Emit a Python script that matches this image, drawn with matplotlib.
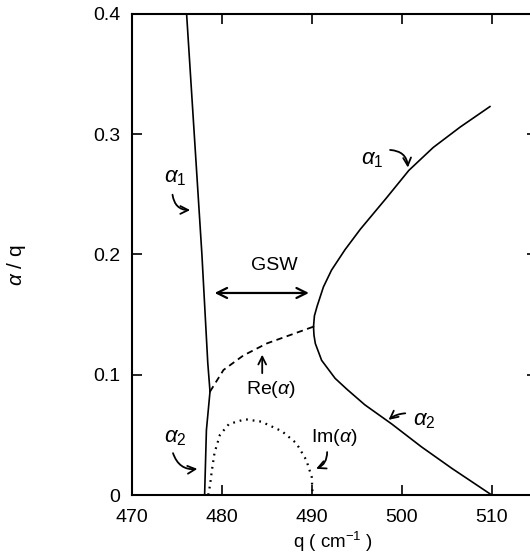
import matplotlib
matplotlib.use("Agg")
import matplotlib.pyplot as plt

plt.rcParams["font.family"] = ["Liberation Sans", "DejaVu Sans"]
plt.rcParams["mathtext.fontset"] = "custom"
plt.rcParams["mathtext.rm"] = "Liberation Sans"
plt.rcParams["mathtext.it"] = "Liberation Sans:italic"

# branche gauche (alpha1 puis alpha2)
q_a1_gauche = [476.1, 476.95, 477.8, 478.45, 478.7]
a_a1_gauche = [0.4, 0.3, 0.2, 0.11, 0.086]
q_a2_gauche = [478.7, 478.3, 478.1]
a_a2_gauche = [0.086, 0.054, 0.0]

# branche droite
q_a1_droite = [490.2, 490.3, 490.6, 491.3, 492.2, 493.7, 495.4, 498.3, 500.8, 503.5, 506.5, 509.8]
a_a1_droite = [0.140, 0.149, 0.157, 0.173, 0.187, 0.204, 0.221, 0.247, 0.270, 0.289, 0.306, 0.323]
q_a2_droite = [490.2, 490.25, 490.4, 491.1, 492.6, 493.9, 495.9, 498.9, 502.2, 505.6, 510.0]
a_a2_droite = [0.140, 0.133, 0.126, 0.112, 0.097, 0.088, 0.075, 0.059, 0.040, 0.022, 0.0]

# partie reelle / imaginaire dans la bande
q_re = [478.7, 480.2, 482.4, 485.0, 487.6, 490.2]
a_re = [0.086, 0.104, 0.116, 0.126, 0.133, 0.140]
q_im = [478.5, 478.7, 478.9, 479.2, 479.8, 480.8, 482.6, 484.4, 486.7, 488.3, 489.4, 490.0, 490.1]
a_im = [0.0, 0.008, 0.020, 0.035, 0.050, 0.059, 0.063, 0.061, 0.053, 0.043, 0.029, 0.015, 0.0]

xticks = [470, 480, 490, 500, 510]
yticks = [0, 0.1, 0.2, 0.3, 0.4]
ytick_labels = ["0", "0.1", "0.2", "0.3", "0.4"]

fig = plt.figure(figsize=(5.30, 5.57), dpi=100)
ax = fig.add_axes([0.2485, 0.1113, 0.7642, 0.8636])

ax.plot(q_a1_gauche, a_a1_gauche, "k-", lw=1.2)
ax.plot(q_a2_gauche, a_a2_gauche, "k-", lw=1.2)
ax.plot(q_a1_droite, a_a1_droite, "k-", lw=1.2)
ax.plot(q_a2_droite, a_a2_droite, "k-", lw=1.2)
ax.plot(q_re, a_re, color="k", lw=1.3, linestyle=(0, (3.5, 2.5)))
ax.plot(q_im, a_im, color="k", lw=1.6, linestyle=(0, (0.8, 2.2)))

ax.set_xlim(470, 515)
ax.set_ylim(0, 0.4)
ax.set_xticks(xticks)
ax.set_yticks(yticks)
ax.set_yticklabels(ytick_labels)
ax.tick_params(direction="in", top=True, right=True, length=7, width=1.2,
               labelsize=14, pad=8)
ax.tick_params(axis="x", pad=10)
for s in ax.spines.values():
    s.set_linewidth(1.5)

ax.set_xlabel(r"q ( cm$^{-1}$ )", fontsize=13.5)
ax.xaxis.set_label_coords(0.497, -0.072)
fig.text(17 / 530, 1 - 265 / 557, r"$\alpha$ / q", fontsize=15, rotation=90,
         ha="center", va="center")

fleche = dict(arrowstyle="->", color="k", lw=1.3, mutation_scale=14)

def note(txt, xy_txt, xy_a, xy_b, rad):
    ax.text(xy_txt[0], xy_txt[1], txt, fontsize=16, ha="center", va="center")
    ax.annotate("", xy=xy_b, xytext=xy_a,
                arrowprops=dict(fleche, connectionstyle="arc3,rad=%g" % rad))

note(r"$\alpha_1$", (474.8, 0.264), (474.5, 0.252), (476.8, 0.237), 0.5)
note(r"$\alpha_1$", (496.7, 0.279), (498.4, 0.287), (500.7, 0.270), -0.5)
note(r"$\alpha_2$", (474.8, 0.048), (474.5, 0.037), (477.6, 0.022), 0.45)
note(r"$\alpha_2$", (502.5, 0.062), (500.7, 0.068), (498.3, 0.061), 0.2)

ax.text(492.5, 0.048, r"Im($\alpha$)", fontsize=14, ha="center", va="center")
ax.annotate("", xy=(490.2, 0.021), xytext=(491.7, 0.038),
            arrowprops=dict(fleche, connectionstyle="arc3,rad=-0.4"))

ax.text(485.5, 0.088, r"Re($\alpha$)", fontsize=14, ha="center", va="center")
ax.annotate("", xy=(484.5, 0.119), xytext=(484.5, 0.099), arrowprops=fleche)

ax.text(485.8, 0.191, "GSW", fontsize=14, ha="center", va="center")
ax.annotate("", xy=(490.0, 0.168), xytext=(478.9, 0.168),
            arrowprops=dict(arrowstyle="<->", color="k", lw=1.6, mutation_scale=18))

fig.savefig("out.png", dpi=100)
